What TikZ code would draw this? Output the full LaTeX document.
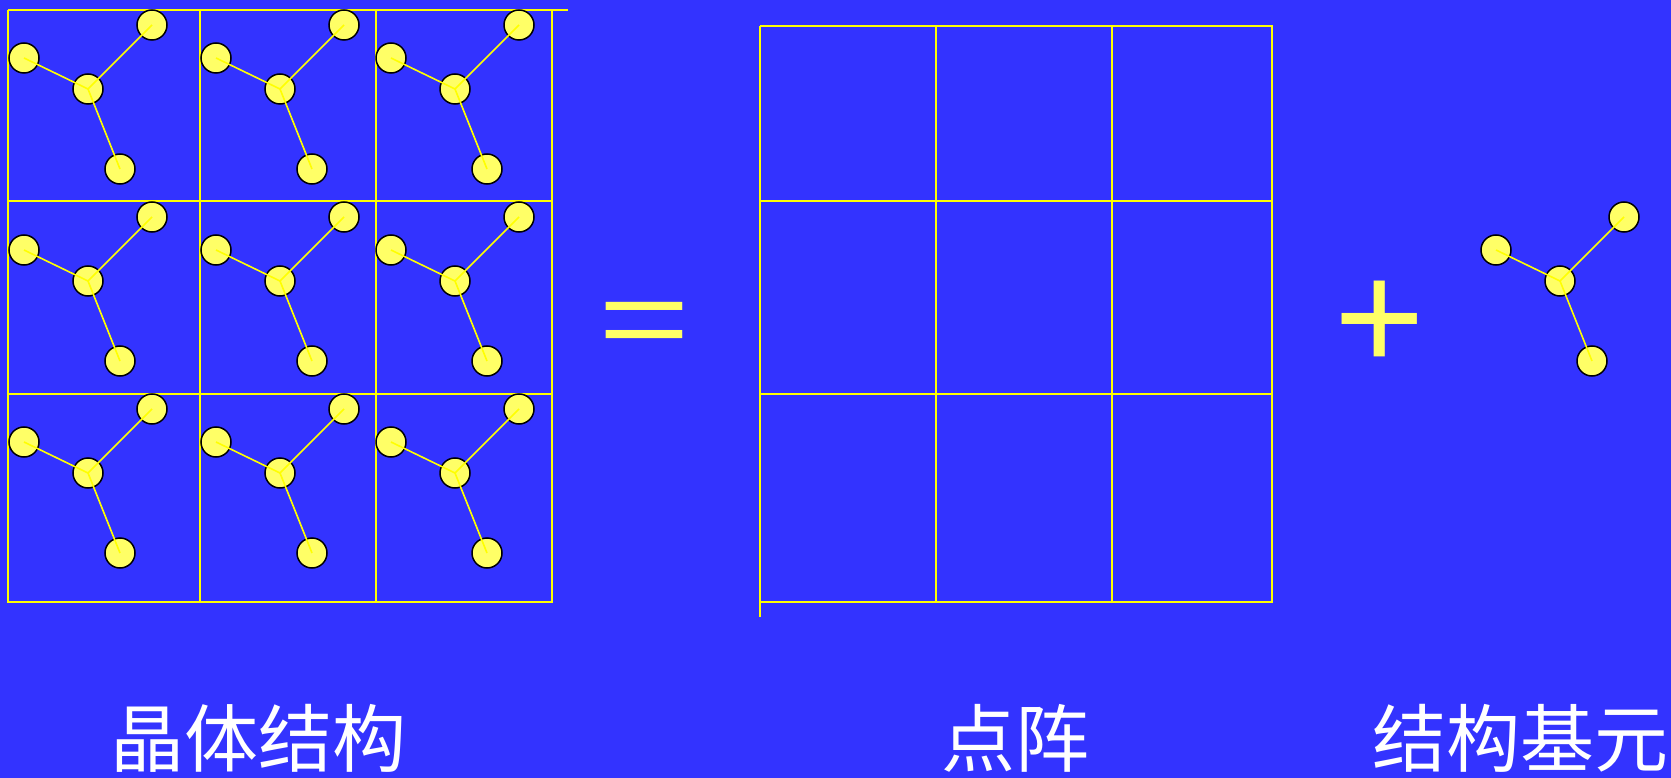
\documentclass[tikz,border=0pt]{standalone}
\usepackage{fontspec}
\newfontfamily\cjk{Noto Sans CJK SC}
\newfontfamily\symfont{Liberation Sans}
\definecolor{slidebg}{RGB}{51,51,255}
\definecolor{atomfill}{RGB}{255,255,102}
\definecolor{gridline}{RGB}{255,255,0}

\begin{document}
\begin{tikzpicture}[
  x=1pt, y=-1pt,
  atom/.style={circle, draw=black, line width=1.5pt, fill=atomfill,
               minimum size=30pt, inner sep=0pt},
  bond/.style={draw=gridline, line width=1.6pt},
  frame/.style={draw=gridline, line width=2pt},
  caption/.style={text=white, anchor=base, inner sep=0pt,
                  font=\cjk\fontsize{74}{74}\selectfont},
  sign/.style={text=atomfill, inner sep=0pt,
               font=\symfont\fontsize{155}{155}\selectfont}
]
\fill[slidebg] (0,0) rectangle (1671,778);
\useasboundingbox (0,0) rectangle (1671,778);

% crystal: cell frame
\draw[frame] (8,10) -- (568,10);
\draw[frame] (8,10) -- (8,602) -- (552,602) -- (552,10);
\draw[frame] (200,10) -- (200,602) (376,10) -- (376,602);
\draw[frame] (8,201) -- (552,201) (8,394) -- (552,394);

% lattice
\draw[frame] (760,26) -- (1272,26) -- (1272,602) -- (760,602);
\draw[frame] (760,26) -- (760,617);
\draw[frame] (936,26) -- (936,602) (1112,26) -- (1112,602);
\draw[frame] (760,201) -- (1272,201) (760,394) -- (1272,394);

% molecules (nine in the crystal, one as the basis)
\foreach \mx/\my [count=\k] in {88/89, 280/89, 455/89,
                                88/281, 280/281, 455/281,
                                88/473, 280/473, 455/473, 1560/281} {
  \node[atom] (mid\k) at (\mx,\my) {};
  \node[atom] (left\k) at ({\mx-64},{\my-31}) {};
  \node[atom] (top\k) at ({\mx+64},{\my-64}) {};
  \node[atom] (low\k) at ({\mx+32},{\my+80}) {};
  \draw[bond] (left\k.center) -- (mid\k.center) -- (top\k.center)
              (mid\k.center) -- (low\k.center);
}

\node[sign, font=\symfont\fontsize{150}{150}\selectfont,
      xscale=1.05, yscale=0.75] (eq) at (644,330) {=};
\node[sign] (plus) at (1380,325.5) {+};

\node[caption] (crystal) at (258,766) {晶体结构};
\node[caption] (lattice) at (1015,766) {点阵};
\node[caption] (basis) at (1520,766) {结构基元};
\end{tikzpicture}
\end{document}
